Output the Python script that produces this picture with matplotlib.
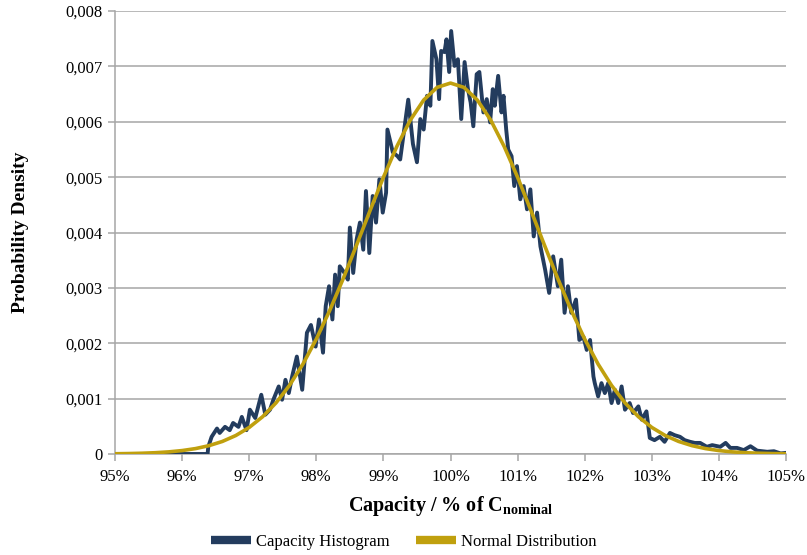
"""
Capacity histogram vs. fitted normal distribution.
Values read off the reference picture.
"""
import matplotlib
matplotlib.use("Agg")
import matplotlib.pyplot as plt
from matplotlib.lines import Line2D
from matplotlib.ticker import FuncFormatter, MultipleLocator

# Histogram readings: capacity in % of nominal, probability density
hist_x = [95.0, 96.38, 96.39, 96.44, 96.52, 96.56, 96.64, 96.71, 96.76, 96.84,
          96.89, 96.96, 97.01, 97.09, 97.18, 97.24, 97.31, 97.36, 97.44, 97.49,
          97.54, 97.59, 97.64, 97.71, 97.79, 97.86, 97.92, 97.99, 98.04, 98.10,
          98.14, 98.19, 98.24, 98.28, 98.32, 98.35, 98.42, 98.47, 98.50, 98.55,
          98.60, 98.65, 98.70, 98.74, 98.79, 98.84, 98.89, 98.94, 98.99, 99.04,
          99.06, 99.14, 99.21, 99.25, 99.29, 99.37, 99.44, 99.50, 99.55, 99.60,
          99.65, 99.70, 99.73, 99.79, 99.83, 99.86, 99.91, 99.94, 99.98, 100.01,
          100.06, 100.11, 100.16, 100.21, 100.26, 100.30, 100.34, 100.39, 100.43, 100.49,
          100.54, 100.59, 100.63, 100.66, 100.71, 100.76, 100.79, 100.83, 100.86, 100.91,
          100.95, 100.99, 101.04, 101.09, 101.14, 101.19, 101.24, 101.29, 101.34, 101.41,
          101.47, 101.53, 101.60, 101.65, 101.70, 101.75, 101.80, 101.87, 101.92, 101.98,
          102.03, 102.08, 102.13, 102.15, 102.20, 102.25, 102.30, 102.35, 102.40, 102.45,
          102.50, 102.55, 102.60, 102.67, 102.72, 102.80, 102.85, 102.92, 102.97, 103.04,
          103.12, 103.19, 103.27, 103.34, 103.42, 103.49, 103.57, 103.64, 103.72, 103.82,
          103.90, 104.02, 104.10, 104.17, 104.27, 104.37, 104.47, 104.57, 104.72, 104.82,
          104.92, 105.0]
hist_y = [0.0, 0.0, 0.00013, 0.00031, 0.00046, 0.00038, 0.00049, 0.00043, 0.00056, 0.00049,
          0.00067, 0.00043, 0.00080, 0.00065, 0.00107, 0.00071, 0.00080, 0.00098, 0.00122, 0.00098,
          0.00134, 0.00110, 0.00140, 0.00176, 0.00116, 0.00219, 0.00233, 0.00194, 0.00243, 0.00183,
          0.00267, 0.00303, 0.00243, 0.00324, 0.00267, 0.00339, 0.00327, 0.00315, 0.00409, 0.00327,
          0.00387, 0.00418, 0.00369, 0.00475, 0.00363, 0.00466, 0.00418, 0.00496, 0.00436, 0.00472,
          0.00586, 0.00545, 0.00538, 0.00532, 0.00568, 0.00640, 0.00560, 0.00527, 0.00605, 0.00586,
          0.00647, 0.00629, 0.00746, 0.00713, 0.00641, 0.00728, 0.00726, 0.00749, 0.00690, 0.00764,
          0.00701, 0.00713, 0.00605, 0.00708, 0.00659, 0.00635, 0.00592, 0.00686, 0.00690, 0.00617,
          0.00641, 0.00599, 0.00659, 0.00629, 0.00683, 0.00617, 0.00647, 0.00586, 0.00550, 0.00538,
          0.00484, 0.00520, 0.00460, 0.00484, 0.00442, 0.00478, 0.00393, 0.00436, 0.00375, 0.00333,
          0.00291, 0.00357, 0.00303, 0.00351, 0.00255, 0.00303, 0.00255, 0.00279, 0.00206, 0.00212,
          0.00188, 0.00206, 0.00140, 0.00128, 0.00104, 0.00128, 0.00110, 0.00128, 0.00092, 0.00116,
          0.00092, 0.00122, 0.00080, 0.00092, 0.00074, 0.00086, 0.00062, 0.00077, 0.00029, 0.00025,
          0.00031, 0.00022, 0.00038, 0.00034, 0.00031, 0.00025, 0.00022, 0.00020, 0.00020, 0.00013,
          0.00016, 0.00013, 0.00020, 0.00011, 0.00011, 0.00007, 0.00014, 0.00006, 0.00004, 0.00005,
          0.00001, 0.00002]

# Normal distribution curve, read every 0.2 %
norm_x = [95.0 + 0.2 * i for i in range(51)]
norm_left = [0.0000044, 0.0000078, 0.0000136, 0.0000230, 0.0000381, 0.0000617,
             0.0000975, 0.0001504, 0.0002265, 0.0003336, 0.0004797, 0.0006738,
             0.0009243, 0.0012386, 0.0016227, 0.0020753, 0.0025929, 0.0031645,
             0.0037729, 0.0043938, 0.0049982, 0.0055545, 0.0060292, 0.0063931,
             0.0066219]
norm_y = norm_left + [0.0067] + norm_left[::-1]

x_ticks = list(range(95, 106))

HIST_COLOR = "#233C5E"
NORM_COLOR = "#C0A00E"
GRID_COLOR = "#A6A6A6"

plt.rcParams["font.family"] = ["Liberation Serif", "DejaVu Serif"]
plt.rcParams["mathtext.fontset"] = "custom"
plt.rcParams["mathtext.rm"] = "Liberation Serif"
plt.rcParams["mathtext.bf"] = "Liberation Serif:bold"

fig = plt.figure(figsize=(8.07, 5.55), dpi=100)
ax = fig.add_axes([0.1425, 0.182, 0.8315, 0.798])

ax.plot(hist_x, hist_y, color=HIST_COLOR, lw=2.8, solid_joinstyle="round", zorder=3)
ax.plot(norm_x, norm_y, color=NORM_COLOR, lw=2.6, zorder=4)

ax.set_xlim(95, 105)
ax.set_ylim(0, 0.008)
ax.set_xticks(x_ticks)
ax.xaxis.set_major_formatter(FuncFormatter(lambda v, p: f"{v:.0f}%"))
ax.yaxis.set_major_locator(MultipleLocator(0.001))
ax.yaxis.set_major_formatter(
    FuncFormatter(lambda v, p: "0" if abs(v) < 1e-9 else f"{v:.3f}".replace(".", ",")))

ax.grid(axis="y", color=GRID_COLOR, lw=1.1)
ax.set_axisbelow(True)
for side in ["top", "right"]:
    ax.spines[side].set_visible(False)
for side in ["left", "bottom"]:
    ax.spines[side].set_color(GRID_COLOR)
    ax.spines[side].set_linewidth(1.1)
ax.tick_params(axis="both", colors=GRID_COLOR, length=5, width=1.1, labelsize=12,
               labelcolor="black")
ax.tick_params(axis="x", pad=6)
ax.tick_params(axis="y", pad=4)

ax.set_xlabel(r"Capacity / % of C$_{\mathbf{nominal}}$", fontsize=14.5, fontweight="bold",
              labelpad=6)
ax.set_ylabel("Probability Density", fontsize=14, fontweight="bold", labelpad=26)

handles = [Line2D([], [], color=HIST_COLOR, lw=6, solid_capstyle="butt"),
           Line2D([], [], color=NORM_COLOR, lw=6, solid_capstyle="butt")]
fig.legend(handles, ["Capacity Histogram", "Normal Distribution"], loc="lower center",
           bbox_to_anchor=(0.5, -0.018), ncol=2, frameon=False, fontsize=12,
           handlelength=2.4, handletextpad=0.3, columnspacing=1.6)

fig.savefig("out.png", dpi=100)
